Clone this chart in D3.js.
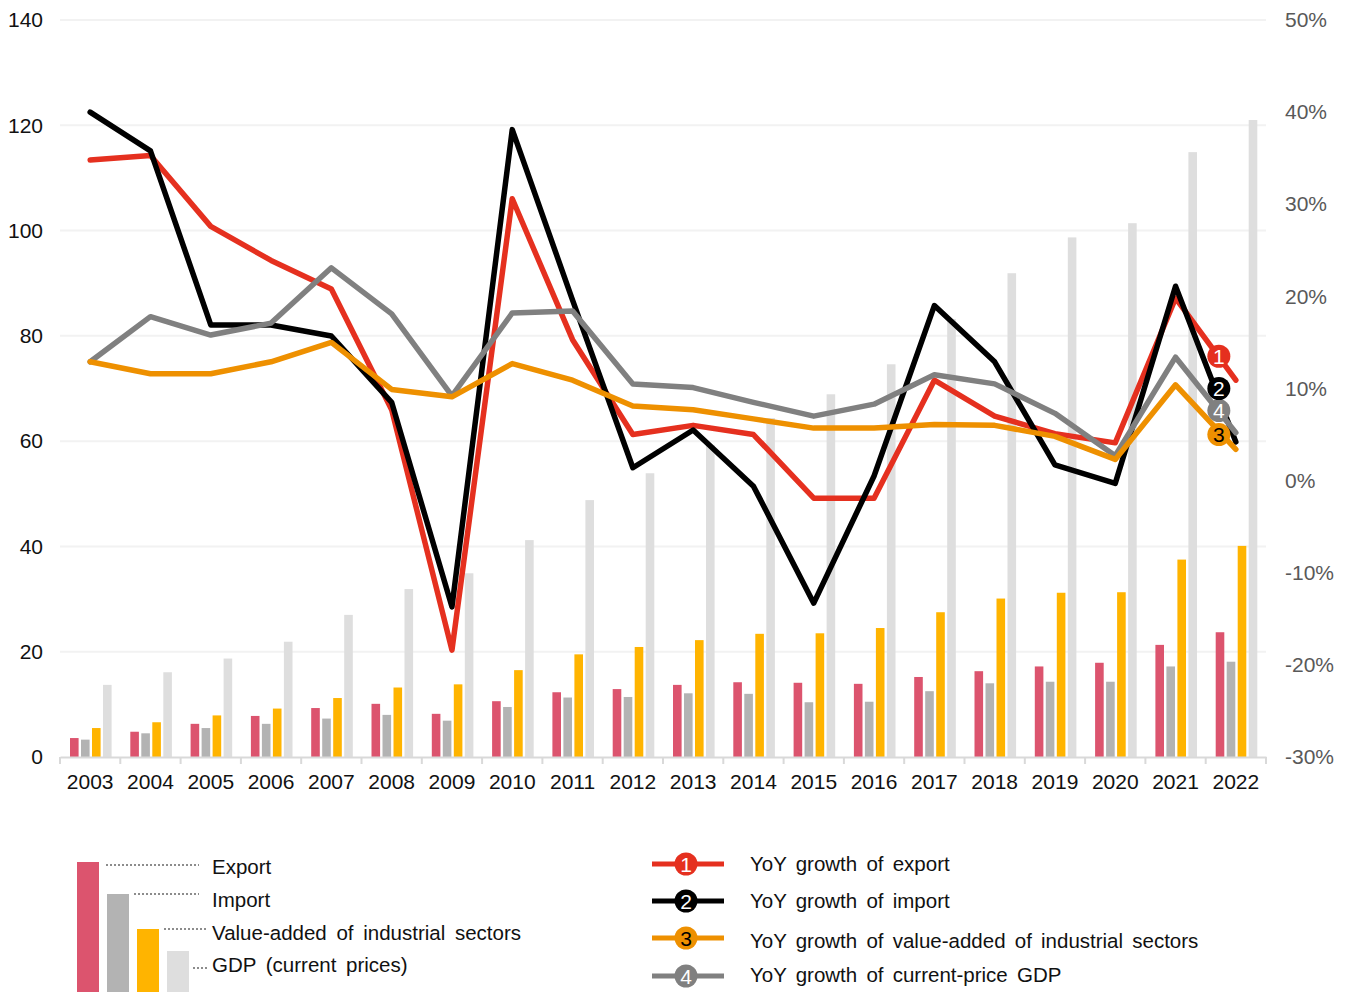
<!DOCTYPE html>
<html>
<head>
<meta charset="utf-8">
<script src="https://cdn.jsdelivr.net/npm/d3@7/dist/d3.min.js"></script>
<style>
html,body{margin:0;padding:0;background:#fff;overflow:hidden}
svg{display:block}
text{font-family:"Liberation Sans",Arial,sans-serif}
</style>
</head>
<body>
<svg id="chart" width="1351" height="992"></svg>
<script>
const years = d3.range(2003, 2023).map(String);

// Annual levels, left axis
const exportLevel = [3.6,4.8,6.3,7.8,9.3,10.1,8.2,10.6,12.3,12.9,13.7,14.2,14.1,13.9,15.2,16.3,17.2,17.9,21.3,23.7];
const importLevel = [3.3,4.5,5.5,6.3,7.3,8.0,6.9,9.5,11.3,11.4,12.1,12.0,10.4,10.5,12.5,14.0,14.3,14.3,17.2,18.1];
const industryLevel = [5.5,6.6,7.9,9.2,11.2,13.2,13.8,16.5,19.5,20.9,22.2,23.4,23.5,24.5,27.5,30.1,31.2,31.3,37.5,40.1];
const gdpLevel = [13.7,16.1,18.7,21.9,27.0,31.9,34.9,41.2,48.8,53.9,59.3,64.4,68.9,74.6,83.2,91.9,98.7,101.4,114.9,121.0];

// Year-on-year growth in percent, right axis
const exportGrowth = [34.8,35.3,27.6,23.9,20.8,7.7,-18.4,30.6,15.3,5.0,6.0,5.0,-1.9,-1.9,10.9,7.0,5.1,4.1,19.8,10.9];
const importGrowth = [40.0,35.8,16.9,16.9,15.7,8.5,-13.7,38.1,19.6,1.4,5.5,-0.6,-13.3,0.5,19.0,12.9,1.7,-0.3,21.1,4.2];
const industryGrowth = [12.9,11.6,11.6,12.9,15.0,9.9,9.1,12.7,10.9,8.1,7.7,6.7,5.7,5.7,6.1,6.0,4.8,2.3,10.4,3.4];
const gdpGrowth = [12.9,17.8,15.8,17.1,23.1,18.1,9.2,18.2,18.4,10.5,10.1,8.5,7.0,8.3,11.5,10.5,7.3,2.7,13.4,5.2];

const barSeries = [
  {name:"Export", values:exportLevel, color:"#DC546E"},
  {name:"Import", values:importLevel, color:"#B3B3B3"},
  {name:"Value-added of industrial sectors", values:industryLevel, color:"#FFB400"},
  {name:"GDP (current prices)", values:gdpLevel, color:"#DEDEDE"}
];
const lineSeries = [
  {key:"1", name:"YoY growth of export", values:exportGrowth, color:"#E5301F", ink:"#fff", endY:13.5},
  {key:"2", name:"YoY growth of import", values:importGrowth, color:"#000000", ink:"#fff", endY:10.0},
  {key:"3", name:"YoY growth of value-added of industrial sectors", values:industryGrowth, color:"#EE9000", ink:"#000", endY:5.0},
  {key:"4", name:"YoY growth of current-price GDP", values:gdpGrowth, color:"#808080", ink:"#fff", endY:7.6}
];
// Paint order of the lines, first is lowest
const lineOrder = ["1","2","4","3"];
const leftTicks = d3.range(0, 141, 20);
const rightTicks = d3.range(-30, 51, 10);

const svg = d3.select("#chart");
const plot = {left:60, right:1266, top:20, bottom:757};
const fontSize = 21;
const legendFontSize = 20.5;
const family = '"Liberation Sans",Arial,sans-serif';

const x = d3.scaleBand().domain(years).range([plot.left, plot.right]);
const yLeft = d3.scaleLinear().domain([0,140]).range([plot.bottom, plot.top]);
const yRight = d3.scaleLinear().domain([-30,50]).range([plot.bottom, plot.top]);
const xMid = d => x(d) + x.bandwidth()/2;

// Horizontal grid
svg.append("g").selectAll("line").data(leftTicks.filter(t => t > 0)).join("line")
  .attr("x1", plot.left).attr("x2", plot.right)
  .attr("y1", d => yLeft(d)).attr("y2", d => yLeft(d))
  .attr("stroke", "#F2F2F2").attr("stroke-width", 2);

// Clustered bars
const barWidth = 8.6, barStep = 11;
const barOffset = d3.scaleBand().domain(d3.range(4)).range([0, barStep*4]);
barSeries.forEach((s, i) => {
  svg.append("g").selectAll("rect").data(s.values).join("rect")
    .attr("x", (d, k) => x(years[k]) + 10 + barOffset(i))
    .attr("width", barWidth)
    .attr("y", d => yLeft(d))
    .attr("height", d => yLeft(0) - yLeft(d))
    .attr("fill", s.color);
});

// Category axis
const xAxis = d3.axisBottom(x).tickSize(0).tickPadding(17);
const xg = svg.append("g").attr("transform", `translate(0,${plot.bottom})`).call(xAxis);
xg.select(".domain").attr("stroke", "#D9D9D9").attr("stroke-width", 2);
xg.selectAll("text").attr("font-size", fontSize).attr("fill", "#111").style("font-family", family);
svg.append("g").selectAll("line").data(d3.range(years.length + 1)).join("line")
  .attr("x1", i => plot.left + i*x.step()).attr("x2", i => plot.left + i*x.step())
  .attr("y1", plot.bottom).attr("y2", plot.bottom + 7)
  .attr("stroke", "#D9D9D9").attr("stroke-width", 2);

// Value axes
const leftAxis = d3.axisLeft(yLeft).tickValues(leftTicks).tickSize(0).tickPadding(17);
const lg = svg.append("g").attr("transform", `translate(${plot.left},0)`).call(leftAxis);
lg.select(".domain").remove();
lg.selectAll("text").attr("font-size", fontSize).attr("fill", "#111").style("font-family", family);

const rightAxis = d3.axisRight(yRight).tickValues(rightTicks).tickSize(0).tickPadding(19)
  .tickFormat(d => d + "%");
const rg = svg.append("g").attr("transform", `translate(${plot.right},0)`).call(rightAxis);
rg.select(".domain").remove();
rg.selectAll("text").attr("font-size", fontSize).attr("fill", "#595959").style("font-family", family);

// Growth lines
const growthLine = d3.line().x((d, i) => xMid(years[i])).y(d => yRight(d));
lineOrder.forEach(k => {
  const s = lineSeries.find(l => l.key === k);
  svg.append("path").attr("d", growthLine(s.values))
    .attr("fill", "none").attr("stroke", s.color)
    .attr("stroke-width", 5.5).attr("stroke-linejoin", "round").attr("stroke-linecap", "round");
});

// Numbered badges near the last segment of each line
const badgeX = xMid("2022") - 17;
function badge(g, cx, cy, s) {
  g.append("circle").attr("cx", cx).attr("cy", cy).attr("r", 11.5).attr("fill", s.color);
  g.append("text").attr("x", cx).attr("y", cy + 7.5).attr("text-anchor", "middle")
    .attr("font-size", fontSize).attr("fill", s.ink).text(s.key);
}
const badges = svg.append("g");
["1","3","4","2"].forEach(k => {
  const s = lineSeries.find(l => l.key === k);
  badge(badges, badgeX, yRight(s.endY), s);
});

// Legend of growth lines
const growthLegendRows = [864, 901, 938, 976];
const growthTextRows = [871, 908, 948, 982];
const lg2 = svg.append("g");
lineSeries.forEach((s, i) => {
  lg2.append("line").attr("x1", 652).attr("x2", 724)
    .attr("y1", growthLegendRows[i]).attr("y2", growthLegendRows[i])
    .attr("stroke", s.color).attr("stroke-width", 5);
  badge(lg2, 686, growthLegendRows[i], s);
  lg2.append("text").attr("x", 750).attr("y", growthTextRows[i])
    .attr("font-size", legendFontSize).attr("fill", "#111").attr("word-spacing", 3.5).text(s.name);
});

// Legend of level bars, cut off by the page edge
const legendBarTops = [862, 894, 929, 951];
const legendBarX = [77, 107, 137, 167];
const legendLeaderX1 = [106, 134, 164, 193];
const legendLeaderY = [865, 894, 929, 968];
const legendTextY = [874, 907, 940, 972];
const lg1 = svg.append("g");
barSeries.forEach((s, i) => {
  lg1.append("rect").attr("x", legendBarX[i]).attr("y", legendBarTops[i])
    .attr("width", 22).attr("height", 992 - legendBarTops[i]).attr("fill", s.color);
  lg1.append("line").attr("x1", legendLeaderX1[i]).attr("x2", i > 1 ? 207 : 199)
    .attr("y1", legendLeaderY[i]).attr("y2", legendLeaderY[i])
    .attr("stroke", "#8c8c8c").attr("stroke-width", 2).attr("stroke-dasharray", "2 2");
  lg1.append("text").attr("x", 212).attr("y", legendTextY[i])
    .attr("font-size", legendFontSize).attr("fill", "#111").attr("word-spacing", 4).text(s.name);
});
</script>
</body>
</html>
